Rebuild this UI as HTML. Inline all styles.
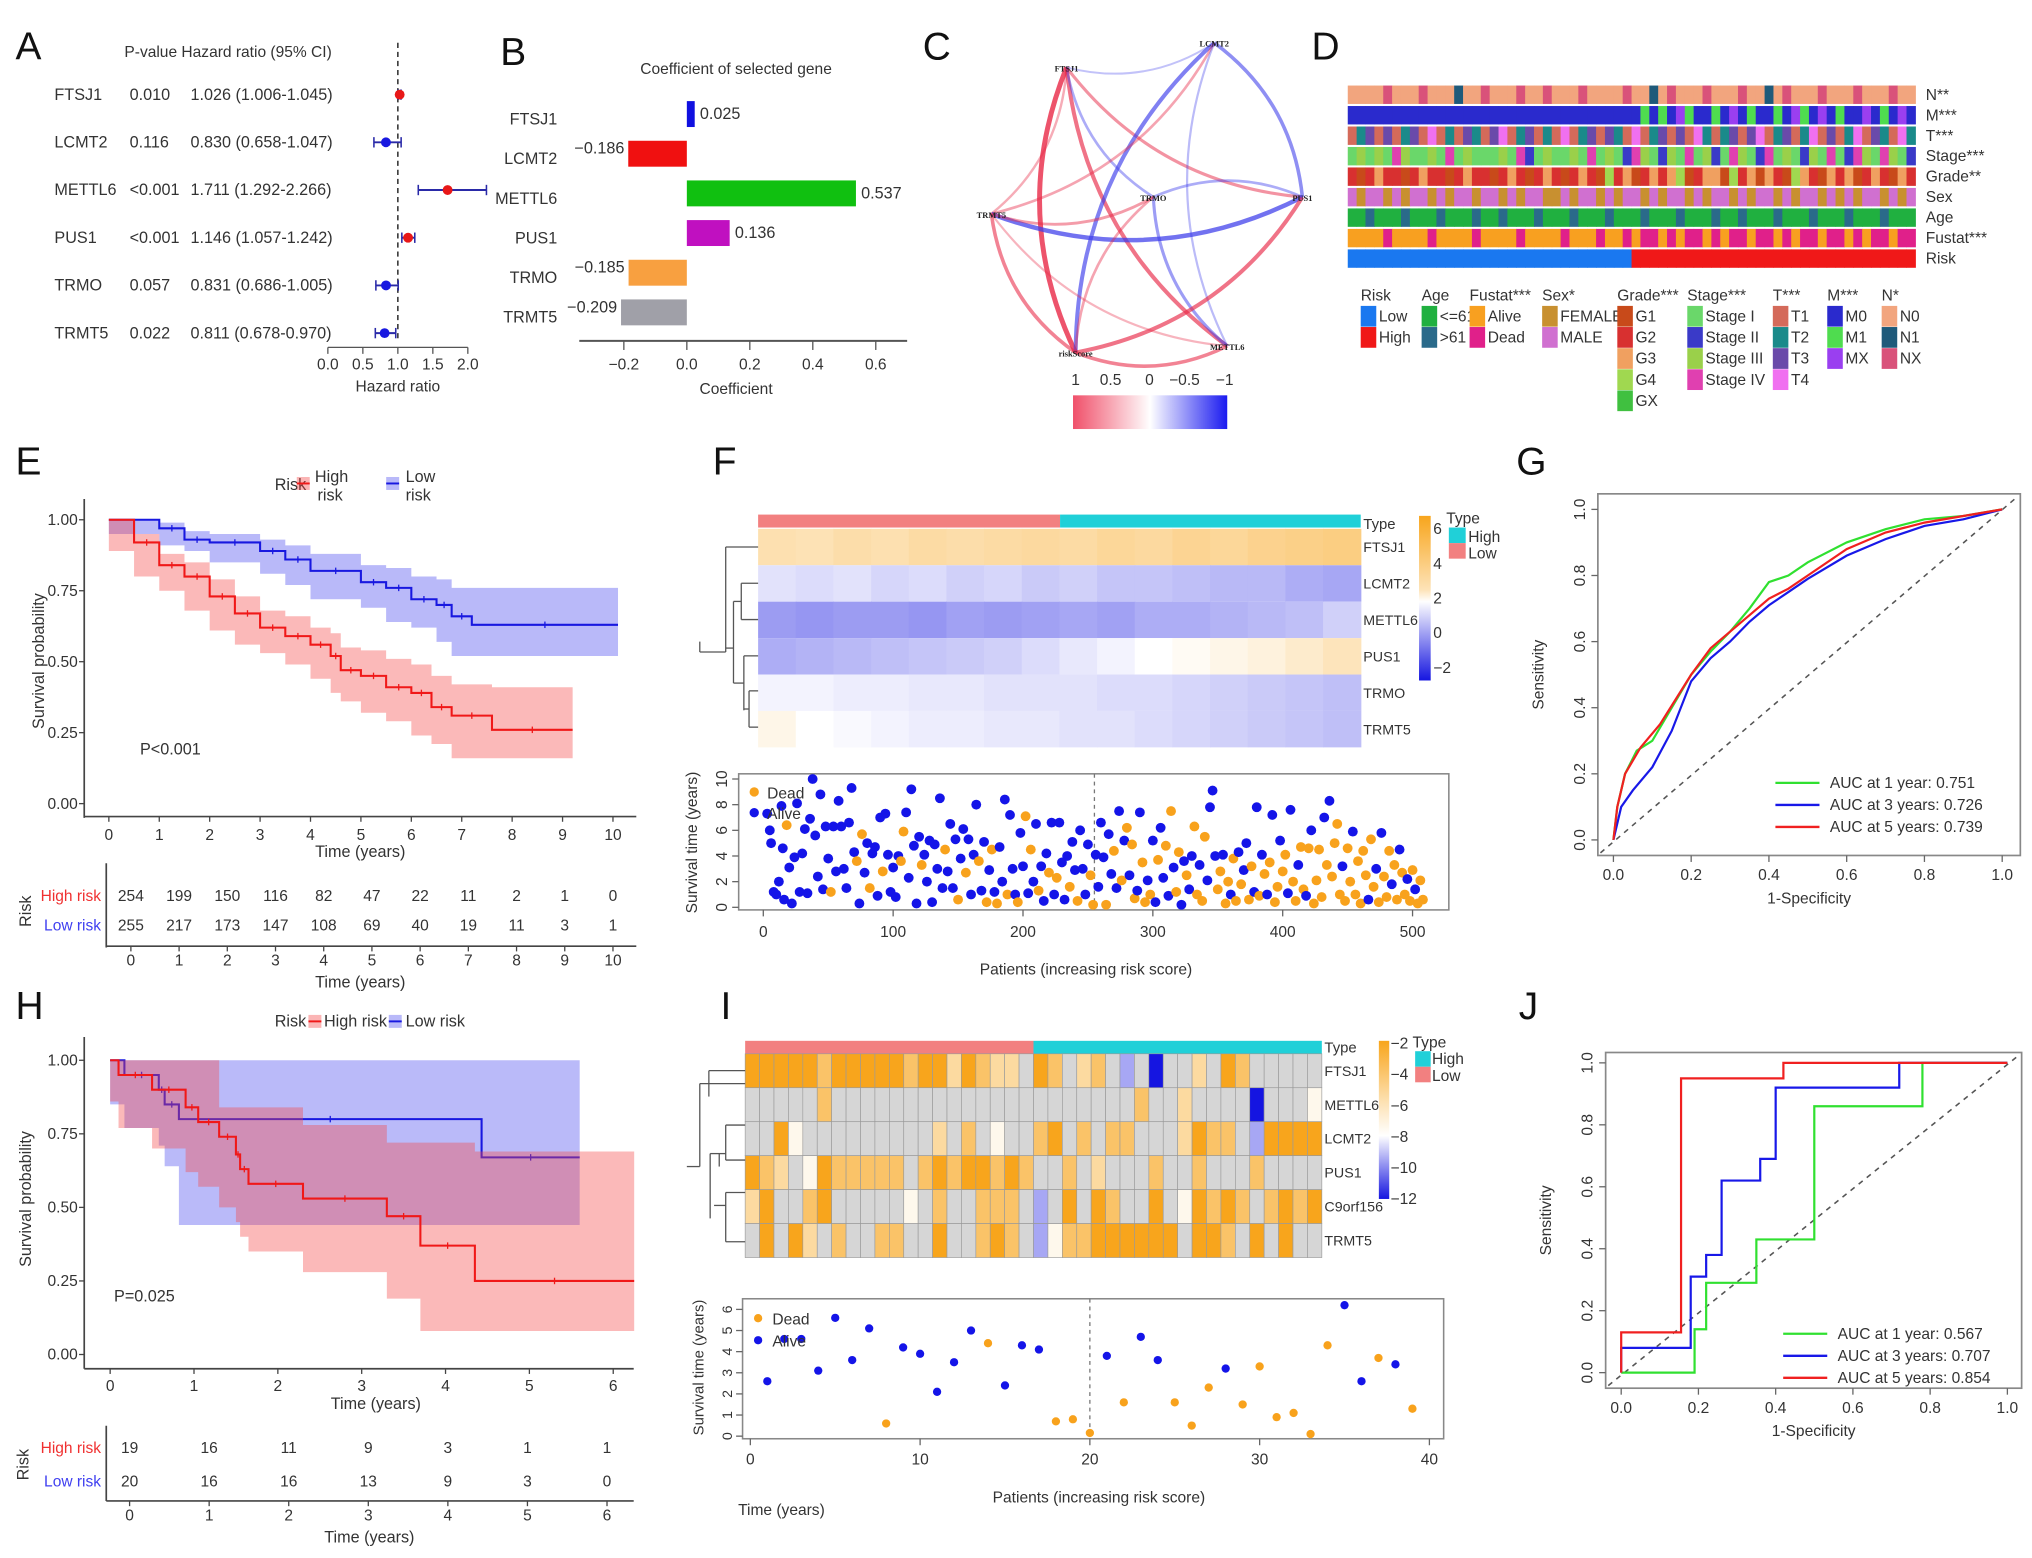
<!DOCTYPE html>
<html><head><meta charset="utf-8"><title>Risk model figure</title>
<style>
html,body{margin:0;padding:0;background:#fff;}
svg{display:block;font-family:"Liberation Sans",Arial,sans-serif;}
</style></head>
<body>
<svg id="fig" xmlns="http://www.w3.org/2000/svg" width="2032" height="1558" viewBox="0 0 1568 1202" preserveAspectRatio="none">
<rect x="0" y="0" width="1568" height="1202" fill="#fff"/>
</svg>
<script>
// ---------------- DATA ----------------
const aGenes=["FTSJ1","LCMT2","METTL6","PUS1","TRMO","TRMT5"];
const aP=["0.010","0.116","<0.001","<0.001","0.057","0.022"];
const aHR=[1.026,0.830,1.711,1.146,0.831,0.811];
const aLo=[1.006,0.658,1.292,1.057,0.686,0.678];
const aHi=[1.045,1.047,2.266,1.242,1.005,0.970];
const aTicks=[0,0.5,1,1.5,2];

const bGenes=["FTSJ1","LCMT2","METTL6","PUS1","TRMO","TRMT5"];
const bCoef=[0.025,-0.186,0.537,0.136,-0.185,-0.209];
const bColors=["#1010e0","#f01010","#10c010","#c010c0","#f8a040","#a0a0a8"];
const bTicks=[-0.2,0,0.2,0.4,0.6];

const cNodes=["FTSJ1","LCMT2","TRMT5","TRMO","PUS1","riskScore","METTL6"];
const cFrom=[0,0,0,0,0,2,4,1,2,1,2,2,2,3,3,5,4,5,2];
const cTo  =[5,6,4,1,3,0,1,5,1,6,4,5,6,5,6,4,3,6,3];
const cR   =[0.8,0.6,0.4,-0.15,-0.3,0.25,-0.5,-0.6,0.3,-0.2,-0.7,0.5,0.2,0.3,-0.4,0.6,-0.3,0.5,0.35];

const dTracks=["N**","M***","T***","Stage***","Grade**","Sex","Age","Fustat***","Risk"];
const dData=[
"0000200020001002000200200020000200102000200020010200020002000200",
"0000000000000000000000000000000001010210010201001021020100201020",
"0120201203010210230120103012021030120203101202301201302013021031",
"0202032002030200020310200203020132012030210320130201203013203201",
"1012110121101211012101210121031201212301220312021032102120121021",
"1011010110101101101011001011010110101101011010110101101010110101",
"0010001000100010010001000100010001000100010010001000100010001000",
"0000100001000010000100001000100101101011010110110101101101011011",
"0000000000000000000000000000000011111111111111111111111111111111"];
const dColors=[
["#f2a57e","#1f5a7a","#d9527a"],
["#2a2acd","#4fdc4f","#9a3ff0"],
["#d46a5a","#1a8a8a","#6a4aaa","#f070f0"],
["#6ad76a","#3a3ac8","#9ad04a","#e040b0"],
["#c84a1a","#d83030","#f0a060","#a0d850","#40c040"],
["#c89030","#d070d0"],
["#20b040","#2a6a8a"],
["#f8a020","#e0208a"],
["#1a78f0","#f01818"]];
const dLegTitles=["Risk","Age","Fustat***","Sex*","Grade***","Stage***","T***","M***","N*"];
const dLegLabels=[["Low","High"],["<=61",">61"],["Alive","Dead"],["FEMALE","MALE"],["G1","G2","G3","G4","GX"],["Stage I","Stage II","Stage III","Stage IV"],["T1","T2","T3","T4"],["M0","M1","MX"],["N0","N1","NX"]];
const dLegColors=[["#1a78f0","#f01818"],["#20b040","#2a6a8a"],["#f8a020","#e0208a"],["#c89030","#d070d0"],["#c84a1a","#d83030","#f0a060","#a0d850","#40c040"],["#6ad76a","#3a3ac8","#9ad04a","#e040b0"],["#d46a5a","#1a8a8a","#6a4aaa","#f070f0"],["#2a2acd","#4fdc4f","#9a3ff0"],["#f2a57e","#1f5a7a","#d9527a"]];

// KM E
const eHiT=[0,0.5,1,1.5,2,2.5,3,3.5,4,4.4,4.6,5,5.5,6,6.4,6.8,7.6,9.2];
const eHiS=[1,0.92,0.84,0.8,0.73,0.67,0.62,0.59,0.56,0.52,0.47,0.45,0.41,0.39,0.34,0.31,0.26,0.26];
const eHiL=[1,0.89,0.8,0.75,0.68,0.61,0.56,0.53,0.49,0.44,0.39,0.36,0.32,0.29,0.24,0.21,0.16,0.16];
const eHiU=[1,0.95,0.88,0.85,0.79,0.73,0.68,0.66,0.62,0.6,0.55,0.54,0.51,0.49,0.45,0.42,0.41,0.41];
const eLoT=[0,1,1.5,2,3,3.5,4,5,5.5,6,6.5,6.8,7.2,10.1];
const eLoS=[1,0.97,0.93,0.92,0.89,0.86,0.82,0.78,0.76,0.72,0.7,0.66,0.63,0.63];
const eLoL=[1,0.95,0.91,0.89,0.85,0.81,0.77,0.72,0.69,0.64,0.62,0.57,0.52,0.52];
const eLoU=[1,0.99,0.96,0.95,0.93,0.91,0.88,0.84,0.83,0.8,0.79,0.76,0.76,0.76];
const eHiN=[254,199,150,116,82,47,22,11,2,1,0];
const eLoN=[255,217,173,147,108,69,40,19,11,3,1];
// KM H
const hHiT=[0,0.1,0.5,0.9,1.05,1.3,1.5,1.55,1.65,2.3,3.3,3.7,4.35,6.25];
const hHiS=[1,0.95,0.9,0.84,0.79,0.74,0.68,0.63,0.58,0.53,0.47,0.37,0.25,0.25];
const hHiL=[1,0.86,0.77,0.7,0.62,0.57,0.5,0.45,0.4,0.35,0.28,0.19,0.08,0.08];
const hHiU=[1,1,1,1,1,0.84,0.84,0.84,0.84,0.78,0.72,0.72,0.69,0.69];
const hLoT=[0,0.17,0.58,0.65,0.82,4.43,5.6];
const hLoS=[1,0.95,0.9,0.85,0.8,0.67,0.67];
const hLoL=[1,0.85,0.77,0.71,0.64,0.44,0.44];
const hLoU=[1,1,1,1,1,1,1];
const hHiN=[19,16,11,9,3,1,1];
const hLoN=[20,16,16,13,9,3,0];

// F heatmap (segment mean values across patients, ordered by risk)
const fGenes=["FTSJ1","LCMT2","METTL6","PUS1","TRMO","TRMT5"];
const fVals=[
[3.4,3.3,3.5,3.4,3.6,3.5,3.6,3.7,3.6,3.8,3.7,3.9,3.8,4.0,4.1,4.2],
[1.5,1.4,1.5,1.3,1.4,1.2,1.3,1.1,1.2,1.0,1.0,0.9,0.8,0.8,0.6,0.5],
[0.3,0.2,0.3,0.3,0.2,0.4,0.3,0.4,0.5,0.4,0.6,0.6,0.7,0.8,0.9,1.2],
[0.6,0.7,0.8,0.9,1.0,1.1,1.2,1.4,1.6,1.8,2.0,2.2,2.4,2.6,2.9,3.2],
[1.8,1.8,1.7,1.7,1.6,1.6,1.5,1.5,1.5,1.4,1.4,1.3,1.2,1.1,1.0,0.9],
[2.4,2.0,1.9,1.8,1.7,1.7,1.6,1.6,1.5,1.5,1.4,1.3,1.2,1.1,1.0,0.9]];
const fTicks=[6,4,2,0,-2];
// F scatter: patient index, years, dead flag
const fPts="3,7.3,0;5,6.0,0;6,5.0,0;8,1.2,0;10,1.0,0;12,2.0,0;14,7.9,0;15,4.6,0;16,0.6,0;18,6.4,1;20,3.1,0;22,0.3,0;24,3.9,0;26,8.1,0;28,1.2,0;30,4.2,0;32,6.1,0;34,1.1,0;36,6.9,0;38,10.0,0;40,5.6,0;42,2.4,0;44,8.8,0;46,1.4,0;48,6.3,0;50,3.8,0;52,1.2,1;54,6.3,0;56,2.8,0;58,8.3,0;60,6.3,0;62,3.0,0;64,1.5,0;66,6.6,0;68,9.3,0;70,4.3,0;72,3.6,1;74,0.3,0;76,5.7,1;78,2.7,0;80,5.0,0;82,1.5,1;84,4.2,0;86,4.7,0;88,0.9,0;90,7.0,0;92,2.8,1;94,7.3,0;96,4.1,0;98,1.2,0;100,3.1,0;102,0.8,0;104,4.0,0;106,3.6,1;108,5.9,1;110,7.4,0;112,2.3,0;114,9.2,0;116,4.8,0;118,0.3,0;120,5.5,0;122,3.3,1;124,4.1,0;126,2.0,0;128,5.2,0;130,0.4,0;132,4.9,0;134,3.0,0;136,8.5,0;138,1.5,0;140,4.5,1;142,2.8,0;144,6.5,0;146,1.5,0;148,5.3,0;150,0.6,1;152,3.8,0;154,6.1,0;156,2.7,1;158,5.3,0;160,1.0,0;162,4.1,0;164,8.0,0;166,3.6,1;168,1.3,0;170,5.1,0;172,0.4,1;174,2.9,0;176,4.5,1;178,1.2,0;180,0.3,1;182,4.7,0;184,2.0,0;186,8.4,0;188,1.0,1;190,7.2,0;192,3.0,0;194,1.0,0;196,0.4,1;198,5.8,0;200,3.2,0;202,7.1,1;204,1.1,0;206,4.5,1;208,2.0,0;210,6.5,0;212,1.3,1;214,3.2,0;216,0.5,0;218,4.2,0;220,2.7,1;222,6.6,0;224,1.0,0;226,2.3,1;228,6.6,0;230,3.5,0;232,0.6,0;234,4.0,0;236,1.6,1;238,5.1,0;240,2.9,0;242,0.5,1;244,6.0,0;246,3.0,0;248,1.0,0;250,4.9,0;252,2.5,1;254,0.2,1;256,4.1,0;258,1.6,0;260,6.6,0;262,3.9,0;264,0.2,1;266,5.7,0;268,2.6,0;270,4.4,1;272,1.5,0;274,7.5,0;276,2.1,1;278,5.2,0;280,6.2,1;282,2.5,0;284,4.9,1;286,0.7,1;288,1.3,0;290,7.4,0;292,3.5,1;294,0.4,1;296,2.1,0;298,1.0,1;300,5.2,0;302,0.4,0;304,3.7,1;306,6.2,0;308,2.3,0;310,4.8,1;312,0.9,0;314,7.5,1;316,3.1,0;318,1.2,1;320,4.3,1;322,0.2,0;324,3.6,0;326,2.5,1;328,1.4,0;330,4.0,0;332,6.3,1;334,1.0,1;336,3.3,0;338,0.5,1;340,5.5,1;342,2.1,0;344,7.8,0;346,9.1,0;348,4.0,0;350,1.4,1;352,2.8,1;354,4.1,0;356,0.3,1;358,2.0,1;360,1.0,0;362,3.8,1;364,0.5,1;366,4.3,0;368,1.8,1;370,2.9,0;372,5.0,0;374,0.6,1;376,3.2,1;378,1.2,0;380,7.8,0;382,0.9,1;384,4.1,0;386,2.6,1;388,1.0,0;390,3.5,1;392,7.2,0;394,0.4,1;396,1.6,1;398,5.2,0;400,2.8,1;402,4.1,1;404,1.1,0;406,7.6,0;408,2.0,1;410,0.5,1;412,3.3,0;414,4.7,1;416,1.4,1;418,0.9,0;420,4.6,1;422,6.0,0;424,0.3,1;426,2.1,1;428,4.5,1;430,0.8,1;432,7.0,0;434,3.3,1;436,8.3,0;438,2.4,1;440,5.0,1;442,6.5,1;444,1.0,1;446,3.2,0;448,0.5,1;450,4.6,1;452,2.0,1;454,5.9,0;456,1.0,1;458,3.6,1;460,0.3,1;462,4.4,1;464,2.5,1;466,0.6,0;468,5.3,1;470,1.6,1;472,3.0,0;474,0.4,1;476,5.8,0;478,2.4,1;480,0.8,1;482,4.4,1;484,1.8,0;486,3.3,1;488,0.6,1;490,4.5,0;492,2.7,1;494,1.0,1;496,2.2,0;498,0.5,1;500,2.9,1;502,1.4,0;504,0.3,1;506,2.1,1;508,0.6,1";

// G ROC
const gFpr1=[0,0.01,0.03,0.06,0.1,0.15,0.2,0.25,0.3,0.35,0.4,0.45,0.5,0.6,0.7,0.8,0.9,1];
const gTpr1=[0,0.1,0.2,0.27,0.3,0.4,0.5,0.57,0.63,0.7,0.78,0.8,0.84,0.9,0.94,0.97,0.98,1];
const gFpr3=[0,0.02,0.05,0.1,0.15,0.2,0.25,0.3,0.35,0.4,0.45,0.5,0.6,0.7,0.8,0.9,1];
const gTpr3=[0,0.1,0.15,0.22,0.33,0.48,0.55,0.6,0.66,0.71,0.75,0.79,0.86,0.91,0.95,0.97,1];
const gFpr5=[0,0.01,0.03,0.07,0.12,0.2,0.25,0.3,0.35,0.4,0.45,0.5,0.6,0.7,0.8,0.9,1];
const gTpr5=[0,0.1,0.2,0.28,0.35,0.5,0.58,0.63,0.68,0.73,0.76,0.8,0.88,0.93,0.96,0.98,1];
const gAUC=["0.751","0.726","0.739"];
const rocTicks=[0,0.2,0.4,0.6,0.8,1];

// I heatmap (40 patients), codes: O=-2 o=-4 l=-5.5 w=-7.5 b=-9.5 B=-12 .=grey(NA)
const iGenes=["FTSJ1","METTL6","LCMT2","PUS1","C9orf156","TRMT5"];
const iRows=[
"OOOOOoOOOOOoOOlOoll.Oo.lo.b.B..l.Oo.....",
".....o.....................o..l....B...w",
"..Ow.........l.o.w..oO.o.oo...lOoo.bOOOO",
"Ool.wOooooo.oOoOOoOo..o.l...o..o...o....",
"lO..oO.....w.o..ooo.b.O.Oo..O.wOoOo.oOoO",
".O.Ol.o..oo..O..oOo.bwooOOOOOO.OOo.O.O.."];
const iCodeVals={"O":-2,"o":-4,"l":-5.5,"w":-7.5,"b":-9.5,"B":-12};
const iTicks=[-2,-4,-6,-8,-10,-12];
const iYears=[2.6,4.6,4.6,3.1,5.6,3.6,5.1,0.6,4.2,3.9,2.1,3.5,5.0,4.4,2.4,4.3,4.1,0.7,0.8,0.15,3.8,1.6,4.7,3.6,1.6,0.5,2.3,3.2,1.5,3.3,0.9,1.1,0.1,4.3,6.2,2.6,3.7,3.4,1.3];
const iDead=[0,0,0,0,0,0,0,1,0,0,0,0,0,1,0,0,0,1,1,1,0,1,0,0,1,1,1,0,1,1,1,1,1,1,0,0,1,0,1];

// J ROC
const jFpr1=[0,0.19,0.19,0.22,0.22,0.35,0.35,0.5,0.5,0.78,0.78,1];
const jTpr1=[0,0,0.14,0.14,0.29,0.29,0.43,0.43,0.86,0.86,1,1];
const jFpr3=[0,0,0.18,0.18,0.22,0.22,0.26,0.26,0.36,0.36,0.4,0.4,0.72,0.72,1];
const jTpr3=[0,0.08,0.08,0.31,0.31,0.38,0.38,0.62,0.62,0.69,0.69,0.92,0.92,1,1];
const jFpr5=[0,0,0.155,0.155,0.42,0.42,1];
const jTpr5=[0,0.13,0.13,0.95,0.95,1,1];
const jAUC=["0.567","0.707","0.854"];

// ---------------- HELPERS ----------------
const NS="http://www.w3.org/2000/svg";
const svg=document.getElementById("fig");
function mk(tag,a,name,p){
  const e=document.createElementNS(NS,tag);
  for(const k in a) e.setAttribute(k,a[k]);
  
  
  (p||svg).appendChild(e);
  return e;
}
function T(x,y,s,name,o){
  o=o||{};
  const a={x:x,y:y,"font-size":o.fs||12,"text-anchor":o.a||"start",fill:o.c||"#333"};
  if(o.rot) a.transform="rotate("+o.rot+" "+x+" "+y+")";
  if(o.w) a["font-weight"]=o.w;
  const t=mk("text",a,name,o.p);
  t.textContent=s;
  return t;
}
function L(x1,y1,x2,y2,name,st,w,dash){
  const a={x1:x1,y1:y1,x2:x2,y2:y2,stroke:st||"#333","stroke-width":w||1};
  if(dash) a["stroke-dasharray"]=dash;
  return mk("line",a,name);
}
function fmt(v){return (v<0?"\u2212":"")+Math.abs(v).toFixed(1);}

// panel letters
[["A",12,46],["B",386,50],["C",712,46],["D",1012,46],["E",12,366],["F",550,366],["G",1170,366],["H",12,786],["I",556,786],["J",1172,786]].forEach(l=>{
  T(l[1],l[2],l[0],"panel-label-"+l[0].toLowerCase(),{fs:30,c:"#111"});
});

// ---------------- PANEL A ----------------
const xA=v=>253+v*54;
const yA=i=>73+i*36.8;
T(96,44,"P-value  Hazard ratio (95% CI)","forest-header",{fs:12});
L(xA(1),33,xA(1),262,"forest-reference-line","#333",1.2,"4,3");
aGenes.forEach((g,i)=>{
  const y=yA(i);
  T(42,y+4,g,"forest-gene-label",{fs:12.5});
  T(100,y+4,aP[i],"forest-p-value",{fs:12.5});
  T(147,y+4,aHR[i].toFixed(3)+" ("+aLo[i].toFixed(3)+"-"+aHi[i].toFixed(3)+")","forest-hr-text",{fs:12.5});
  L(xA(aLo[i]),y,xA(aHi[i]),y,"forest-ci-line","#2a2aa8",1.5);
  L(xA(aLo[i]),y-4,xA(aLo[i]),y+4,"forest-ci-cap","#2a2aa8",1.2);
  L(xA(aHi[i]),y-4,xA(aHi[i]),y+4,"forest-ci-cap","#2a2aa8",1.2);
  mk("circle",{cx:xA(aHR[i]),cy:y,r:3.8,fill:aHR[i]>1?"#e81818":"#1818e0"},"forest-point");
});
L(xA(0),268,xA(2),268,"forest-x-axis","#555",1);
aTicks.forEach(t=>{
  L(xA(t),268,xA(t),273,"forest-x-tick","#555",1);
  T(xA(t),285,t.toFixed(1),"forest-x-tick-label",{fs:12,a:"middle"});
});
T(307,302,"Hazard ratio","forest-x-axis-title",{fs:12,a:"middle"});

// ---------------- PANEL B ----------------
const xB=v=>530+v*243;
const yB=i=>88+i*30.6;
T(568,57,"Coefficient of selected gene","coef-title",{fs:12,a:"middle"});
bGenes.forEach((g,i)=>{
  const y=yB(i),v=bCoef[i];
  const x0=Math.min(xB(0),xB(v)),w=Math.abs(xB(v)-xB(0));
  mk("rect",{x:x0,y:y-10,width:Math.max(w,3),height:20,fill:bColors[i]},"coef-bar-"+g.toLowerCase());
  T(430,y+8,g,"coef-gene-label",{fs:12.5,a:"end"});
  if(v>=0) T(xB(v)+4,y+4,v.toFixed(3),"coef-value-label",{fs:12.5});
  else T(xB(v)-3,y,"\u2212"+Math.abs(v).toFixed(3),"coef-value-label",{fs:12.5,a:"end"});
});
L(447,263,700,263,"coef-x-axis","#555",1.5);
bTicks.forEach(t=>{
  L(xB(t),263,xB(t),270,"coef-x-tick","#555",1);
  T(xB(t),285,fmt(t),"coef-x-tick-label",{fs:12,a:"middle"});
});
T(568,304,"Coefficient","coef-x-axis-title",{fs:12,a:"middle"});

// ---------------- PANEL C ----------------
const cPos=[[823,52],[937,33],[765,165],[890,152],[1005,152],[830,272],[947,267]];
cFrom.forEach((f,i)=>{
  const a=cPos[f],b=cPos[cTo[i]],r=cR[i];
  const dx=b[0]-a[0],dy=b[1]-a[1];
  const mx=(a[0]+b[0])/2,my=(a[1]+b[1])/2;
  const qx=mx-dy*0.22,qy=my+dx*0.22;
  const col=r>0?"rgba(232,40,70,"+(0.2+0.75*Math.abs(r))+")":"rgba(60,60,235,"+(0.2+0.75*Math.abs(r))+")";
  mk("path",{d:"M"+a[0]+" "+a[1]+" Q"+qx+" "+qy+" "+b[0]+" "+b[1],fill:"none",stroke:col,"stroke-width":1+Math.abs(r)*3.5},"network-edge");
});
cNodes.forEach((n,i)=>{
  T(cPos[i][0],cPos[i][1]+3,n,"network-node-label",{fs:6.5,a:"middle",c:"#222",w:"bold"}).setAttribute("font-family","Liberation Serif");
});
const grad=mk("linearGradient",{id:"cg",x1:"0",x2:"1",y1:"0",y2:"0"},"corr-gradient");
[["0","#f0506a"],["0.5","#ffffff"],["1","#1a1af0"]].forEach(s=>{mk("stop",{offset:s[0],"stop-color":s[1]},"gradient-stop",grad);});
mk("rect",{x:828,y:305,width:119,height:26,fill:"url(#cg)"},"corr-colorbar");
[["1",830],["0.5",857],["0",887],["\u22120.5",914],["\u22121",945]].forEach(t=>{T(t[1],297,t[0],"corr-colorbar-label",{fs:12,a:"middle"});});

// ---------------- PANEL D ----------------
const dx0=1040,dx1=1478,dy0=66,dh=14.2,dg=1.6;
dTracks.forEach((tr,ti)=>{
  const s=dData[ti],n=s.length,w=(dx1-dx0)/n,y=dy0+ti*(dh+dg);
  for(let j=0;j<n;j++){
    const c=+s[j];
    mk("rect",{x:dx0+j*w,y:y,width:w+0.4,height:dh,fill:dColors[ti][c]},"clinical-cell-"+tr.replace(/\*/g,"").toLowerCase());
  }
  T(1486,y+11,tr,"clinical-track-label",{fs:12});
});
const dLegX=[1050,1097,1134,1190,1248,1302,1368,1410,1452];
dLegTitles.forEach((t,i)=>{
  T(dLegX[i],232,t,"clinical-legend-title",{fs:12});
  dLegLabels[i].forEach((lb,j)=>{
    mk("rect",{x:dLegX[i],y:236+j*16.3,width:12,height:16,fill:dLegColors[i][j]},"clinical-legend-swatch");
    T(dLegX[i]+14,248+j*16.3,lb,"clinical-legend-label",{fs:12});
  });
});

// ---------------- KM helper ----------------
function km(xf,yf,t,s,lo,up,col,band,name){
  let d="M"+xf(t[0])+" "+yf(up[0]);
  for(let i=1;i<t.length;i++) d+=" H"+xf(t[i])+" V"+yf(up[i]);
  for(let i=t.length-1;i>0;i--) d+=" V"+yf(lo[i])+" H"+xf(t[i-1]);
  d+=" V"+yf(lo[0])+" Z";
  mk("path",{d:d,fill:band,stroke:"none"},name+"-ci-band");
  let p="M"+xf(t[0])+" "+yf(s[0]);
  for(let i=1;i<t.length;i++) p+=" H"+xf(t[i])+" V"+yf(s[i]);
  mk("path",{d:p,fill:"none",stroke:col,"stroke-width":1.6},name+"-curve");
  for(let i=1;i<t.length-1;i++){
    const xm=(xf(t[i])+xf(t[i+1]))/2;
    L(xm,yf(s[i])-2.5,xm,yf(s[i])+2.5,name+"-censor-mark",col,1);
  }
}

// ---------------- PANEL E ----------------
const xE=v=>84+v*38.9, yE=v=>620-v*219;
km(xE,yE,eLoT,eLoS,eLoL,eLoU,"#1818e0","rgba(80,80,240,0.4)","km-e-low-risk");
km(xE,yE,eHiT,eHiS,eHiL,eHiU,"#f01818","rgba(245,70,70,0.38)","km-e-high-risk");
L(65,385,65,631,"km-e-y-axis","#444",1.3);
L(65,630,491,630,"km-e-x-axis","#444",1.3);
[0,0.25,0.5,0.75,1].forEach(v=>{
  L(61,yE(v),65,yE(v),"km-e-y-tick","#444",1);
  T(60,yE(v)+4,v.toFixed(2),"km-e-y-tick-label",{fs:12,a:"end"});
});
for(let t=0;t<=10;t++){L(xE(t),630,xE(t),634,"km-e-x-tick","#444",1);T(xE(t),648,String(t),"km-e-x-tick-label",{fs:12,a:"middle"});}
T(278,661,"Time (years)","km-e-x-axis-title",{fs:12.5,a:"middle"});
T(34,510,"Survival probability","km-e-y-axis-title",{fs:12.5,a:"middle",rot:-90});
T(108,582,"P<0.001","km-e-p-value",{fs:12.5});
T(212,378,"Risk","km-e-legend-title",{fs:12.5});
mk("rect",{x:229,y:368,width:10,height:10,fill:"rgba(245,70,70,0.4)"},"km-e-legend-high-swatch");
L(229,373,239,373,"km-e-legend-high-line","#f01818",1.5);
T(243,372,"High","km-e-legend-high-label",{fs:12.5});T(245,386,"risk","km-e-legend-high-label",{fs:12.5});
mk("rect",{x:298,y:368,width:10,height:10,fill:"rgba(80,80,240,0.4)"},"km-e-legend-low-swatch");
L(298,373,308,373,"km-e-legend-low-line","#1818e0",1.5);
T(313,372,"Low","km-e-legend-low-label",{fs:12.5});T(313,386,"risk","km-e-legend-low-label",{fs:12.5});
const xEt=v=>101+v*37.2;
L(82,666,82,731,"risk-table-e-y-axis","#444",1.3);
L(82,730,491,730,"risk-table-e-x-axis","#444",1.3);
T(78,695,"High risk","risk-table-e-high-label",{fs:12,a:"end",c:"#f03030"});
T(78,718,"Low risk","risk-table-e-low-label",{fs:12,a:"end",c:"#4040f0"});
T(24,703,"Risk","risk-table-e-title",{fs:12.5,a:"middle",rot:-90});
eHiN.forEach((n,i)=>{T(xEt(i),695,String(n),"risk-table-e-high-count",{fs:12,a:"middle"});});
eLoN.forEach((n,i)=>{T(xEt(i),718,String(n),"risk-table-e-low-count",{fs:12,a:"middle"});});
for(let t=0;t<=10;t++){L(xEt(t),730,xEt(t),734,"risk-table-e-x-tick","#444",1);T(xEt(t),745,String(t),"risk-table-e-x-tick-label",{fs:12,a:"middle"});}
T(278,762,"Time (years)","risk-table-e-x-axis-title",{fs:12.5,a:"middle"});

// ---------------- PANEL F heatmap ----------------
const fx0=585,fx1=1050,fy0=408,frh=28.1;
mk("rect",{x:fx0,y:397,width:818-fx0,height:10,fill:"#f28080"},"type-bar-low");
mk("rect",{x:818,y:397,width:fx1-818,height:10,fill:"#20d0d8"},"type-bar-high");
function fCol(v){
  if(v>=2){const t=Math.min(1,(v-2)/4);return "rgb("+Math.round(255-7*t)+","+Math.round(255-90*t)+","+Math.round(255-227*t)+")";}
  const t=Math.min(1,(2-v)/4);return "rgb("+Math.round(255-234*t)+","+Math.round(255-234*t)+","+Math.round(255-30*t)+")";
}
fGenes.forEach((g,gi)=>{
  const vals=fVals[gi],w=(fx1-fx0)/vals.length;
  vals.forEach((v,j)=>{mk("rect",{x:fx0+j*w,y:fy0+gi*frh,width:w+0.5,height:frh,fill:fCol(v)},"expr-heatmap-cell-"+g.toLowerCase());});
  T(1052,fy0+gi*frh+18,g,"expr-heatmap-gene-label",{fs:11});
});
T(1052,408,"Type","expr-heatmap-type-label",{fs:11.5});
[[560,422,585,422],[560,422,560,503],[540,503,560,503],[540,503,540,495],[572,450,585,450],[572,450,572,478],[572,478,585,478],[566,464,572,464],[566,464,566,527],[566,527,574,527],[574,506,585,506],[574,506,574,548],[578,533,585,533],[578,533,578,561],[578,561,585,561],[574,547,578,547],[560,500,566,500]].forEach(s=>{L(s[0],s[1],s[2],s[3],"expr-dendrogram-branch","#555",1);});
const fcg=mk("linearGradient",{id:"fcg",x1:"0",x2:"0",y1:"0",y2:"1"},"expr-colorbar-gradient");
[["0","#f8a51c"],["0.45","#fde3b8"],["0.52","#ffffff"],["1","#1515e0"]].forEach(s=>{mk("stop",{offset:s[0],"stop-color":s[1]},"gradient-stop",fcg);});
mk("rect",{x:1095,y:398,width:9,height:127,fill:"url(#fcg)"},"expr-colorbar");
fTicks.forEach((t,i)=>{T(1106,412+i*26.8,t<0?"\u2212"+(-t):String(t),"expr-colorbar-label",{fs:12});});
T(1116,404,"Type","expr-legend-title",{fs:12});
mk("rect",{x:1118,y:407,width:13,height:12,fill:"#20d0d8"},"expr-legend-high-swatch");
T(1133,418,"High","expr-legend-high-label",{fs:12});
mk("rect",{x:1118,y:419,width:13,height:12,fill:"#f28080"},"expr-legend-low-swatch");
T(1133,431,"Low","expr-legend-low-label",{fs:12});

// F scatter
const xF=v=>589+v*1.002, yF=v=>700-v*9.9;
mk("rect",{x:570,y:597,width:548,height:105,fill:"none",stroke:"#888","stroke-width":1.2},"survival-scatter-frame");
L(xF(255),597,xF(255),702,"survival-scatter-cutoff","#777",1,"3,3");
fPts.split(";").forEach(p=>{
  const q=p.split(",");
  mk("circle",{cx:xF(+q[0]),cy:yF(+q[1]),r:3.8,fill:q[2]=="1"?"#f8a21c":"#1414e8"},q[2]=="1"?"dead-patient-point":"alive-patient-point");
});
[0,100,200,300,400,500].forEach(t=>{L(xF(t),702,xF(t),707,"survival-scatter-x-tick","#666",1);T(xF(t),723,String(t),"survival-scatter-x-tick-label",{fs:12,a:"middle"});});
[0,2,4,6,8,10].forEach(t=>{L(565,yF(t),570,yF(t),"survival-scatter-y-tick","#666",1);T(561,yF(t),String(t),"survival-scatter-y-tick-label",{fs:12,a:"middle",rot:-90});});
T(538,650,"Survival time (years)","survival-scatter-y-title",{fs:12,a:"middle",rot:-90});
T(838,752,"Patients (increasing risk score)","survival-scatter-x-title",{fs:12,a:"middle"});
mk("circle",{cx:582,cy:611,r:3.6,fill:"#f8a21c"},"legend-dead-marker");T(592,616,"Dead","legend-dead-label",{fs:12});
mk("circle",{cx:582,cy:627,r:3.6,fill:"#1414e8"},"legend-alive-marker");T(592,632,"Alive","legend-alive-label",{fs:12});

// ---------------- ROC helper ----------------
function roc(pfx,fr,xf,yf,fprs,tprs,aucs,legX,legY,yrs){
  mk("rect",{x:fr[0],y:fr[1],width:fr[2]-fr[0],height:fr[3]-fr[1],fill:"none",stroke:"#888","stroke-width":1.3},pfx+"-frame");
  L(fr[0]+2,fr[3]-2,fr[2]-2,fr[1]+2,pfx+"-diagonal","#555",1.2,"4,4");
  const cols=["#30e030","#1818e8","#f02020"];
  fprs.forEach((f,k)=>{
    const pts=f.map((v,i)=>xf(v)+","+yf(tprs[k][i])).join(" ");
    mk("polyline",{points:pts,fill:"none",stroke:cols[k],"stroke-width":1.7},pfx+"-curve-"+yrs[k].replace(" ","-"));
    L(legX,legY+k*17,legX+34,legY+k*17,pfx+"-legend-line",cols[k],1.8);
    T(legX+42,legY+k*17+4,"AUC at "+yrs[k]+": "+aucs[k],pfx+"-legend-label",{fs:12});
  });
  rocTicks.forEach(t=>{
    L(xf(t),fr[3],xf(t),fr[3]+5,pfx+"-x-tick","#666",1);
    T(xf(t),fr[3]+19,t.toFixed(1),pfx+"-x-tick-label",{fs:12,a:"middle"});
    L(fr[0]-5,yf(t),fr[0],yf(t),pfx+"-y-tick","#666",1);
    T(fr[0]-10,yf(t),t.toFixed(1),pfx+"-y-tick-label",{fs:12,a:"middle",rot:-90});
  });
  T((fr[0]+fr[2])/2,fr[3]+37,"1-Specificity",pfx+"-x-title",{fs:12,a:"middle"});
  T(fr[0]-42,(fr[1]+fr[3])/2,"Sensitivity",pfx+"-y-title",{fs:12,a:"middle",rot:-90});
}
roc("roc-g",[1233,381,1559,660],v=>1245+v*300,v=>648-v*255,[gFpr1,gFpr3,gFpr5],[gTpr1,gTpr3,gTpr5],gAUC,1370,604,["1 year","3 years","5 years"]);
roc("roc-j",[1239,812,1560,1071],v=>1251+v*298,v=>1059-v*239,[jFpr1,jFpr3,jFpr5],[jTpr1,jTpr3,jTpr5],jAUC,1376,1029,["1 year","3 years","5 years"]);

// ---------------- PANEL H ----------------
const xH=v=>85+v*64.7, yH=v=>1045-v*227;
km(xH,yH,hLoT,hLoS,hLoL,hLoU,"#1818e0","rgba(90,90,240,0.42)","km-h-low-risk");
km(xH,yH,hHiT,hHiS,hHiL,hHiU,"#f01818","rgba(245,70,70,0.38)","km-h-high-risk");
L(65,800,65,1056,"km-h-y-axis","#444",1.3);
L(65,1056,489,1056,"km-h-x-axis","#444",1.3);
[0,0.25,0.5,0.75,1].forEach(v=>{
  L(61,yH(v),65,yH(v),"km-h-y-tick","#444",1);
  T(60,yH(v)+4,v.toFixed(2),"km-h-y-tick-label",{fs:12,a:"end"});
});
for(let t=0;t<=6;t++){L(xH(t),1056,xH(t),1060,"km-h-x-tick","#444",1);T(xH(t),1073,String(t),"km-h-x-tick-label",{fs:12,a:"middle"});}
T(290,1087,"Time (years)","km-h-x-axis-title",{fs:12.5,a:"middle"});
T(24,925,"Survival probability","km-h-y-axis-title",{fs:12.5,a:"middle",rot:-90});
T(88,1004,"P=0.025","km-h-p-value",{fs:12.5});
T(212,792,"Risk","km-h-legend-title",{fs:12.5});
mk("rect",{x:238,y:783,width:10,height:10,fill:"rgba(245,70,70,0.4)"},"km-h-legend-high-swatch");
L(238,788,248,788,"km-h-legend-high-line","#f01818",1.5);
T(250,792,"High risk","km-h-legend-high-label",{fs:12.5});
mk("rect",{x:300,y:783,width:10,height:10,fill:"rgba(80,80,240,0.4)"},"km-h-legend-low-swatch");
L(300,788,310,788,"km-h-legend-low-line","#1818e0",1.5);
T(313,792,"Low risk","km-h-legend-low-label",{fs:12.5});
const xHt=v=>100+v*61.4;
L(82,1100,82,1158,"risk-table-h-y-axis","#444",1.3);
L(82,1158,489,1158,"risk-table-h-x-axis","#444",1.3);
T(78,1121,"High risk","risk-table-h-high-label",{fs:12,a:"end",c:"#f03030"});
T(78,1147,"Low risk","risk-table-h-low-label",{fs:12,a:"end",c:"#4040f0"});
T(22,1130,"Risk","risk-table-h-title",{fs:12.5,a:"middle",rot:-90});
hHiN.forEach((n,i)=>{T(xHt(i),1121,String(n),"risk-table-h-high-count",{fs:12,a:"middle"});});
hLoN.forEach((n,i)=>{T(xHt(i),1147,String(n),"risk-table-h-low-count",{fs:12,a:"middle"});});
for(let t=0;t<=6;t++){L(xHt(t),1158,xHt(t),1162,"risk-table-h-x-tick","#444",1);T(xHt(t),1173,String(t),"risk-table-h-x-tick-label",{fs:12,a:"middle"});}
T(285,1190,"Time (years)","risk-table-h-x-axis-title",{fs:12.5,a:"middle"});

// ---------------- PANEL I heatmap ----------------
const ix0=575,ix1=1020,iy0=813,irh=26.2,icw=(ix1-ix0)/40;
mk("rect",{x:ix0,y:803,width:20*icw,height:10,fill:"#f28080"},"validation-type-bar-low");
mk("rect",{x:ix0+20*icw,y:803,width:20*icw,height:10,fill:"#20d0d8"},"validation-type-bar-high");
function iCol(v){
  if(v===undefined) return "#d6d6d6";
  if(v>=-8){const t=Math.min(1,(v+8)/6);return "rgb("+Math.round(255-7*t)+","+Math.round(255-90*t)+","+Math.round(255-227*t)+")";}
  const t=Math.min(1,(-8-v)/4);return "rgb("+Math.round(255-234*t)+","+Math.round(255-234*t)+","+Math.round(255-30*t)+")";
}
iGenes.forEach((g,gi)=>{
  const s=iRows[gi];
  for(let j=0;j<40;j++){
    mk("rect",{x:ix0+j*icw,y:iy0+gi*irh,width:icw,height:irh,fill:iCol(iCodeVals[s[j]]),stroke:"#9a9a9a","stroke-width":0.5},"validation-heatmap-cell-"+g.toLowerCase());
  }
  T(1022,iy0+gi*irh+17,g,"validation-heatmap-gene-label",{fs:11});
});
T(1022,812,"Type","validation-heatmap-type-label",{fs:11.5});
[[540,836,575,836],[540,836,540,900],[540,900,530,900],[547,826,575,826],[547,826,547,846],[555,900,555,890],[548,890,560,890],[548,890,548,940],[560,868,575,868],[560,868,560,895],[560,895,575,895],[551,930,560,930],[560,920,575,920],[560,920,560,958],[560,958,575,958]].forEach(s=>{L(s[0],s[1],s[2],s[3],"validation-dendrogram-branch","#555",1);});
const icg=mk("linearGradient",{id:"icg",x1:"0",x2:"0",y1:"0",y2:"1"},"validation-colorbar-gradient");
[["0","#f8a51c"],["0.4","#fde3b8"],["0.6","#ffffff"],["1","#1515e0"]].forEach(s=>{mk("stop",{offset:s[0],"stop-color":s[1]},"gradient-stop",icg);});
mk("rect",{x:1064,y:803,width:8,height:122,fill:"url(#icg)"},"validation-colorbar");
iTicks.forEach((t,i)=>{T(1073,809+i*24,"\u2212"+(-t),"validation-colorbar-label",{fs:12});});
T(1090,808,"Type","validation-legend-title",{fs:12});
mk("rect",{x:1092,y:811,width:12,height:12,fill:"#20d0d8"},"validation-legend-high-swatch");
T(1105,821,"High","validation-legend-high-label",{fs:12});
mk("rect",{x:1092,y:823,width:12,height:12,fill:"#f28080"},"validation-legend-low-swatch");
T(1105,834,"Low","validation-legend-low-label",{fs:12});

// I scatter
const xI=v=>579+v*13.1, yI=v=>1108-v*16.3;
mk("rect",{x:573,y:1002,width:541,height:108,fill:"none",stroke:"#888","stroke-width":1.2},"validation-scatter-frame");
L(xI(20),1002,xI(20),1110,"validation-scatter-cutoff","#777",1,"3,3");
iYears.forEach((y,i)=>{
  mk("circle",{cx:xI(i+1),cy:yI(y),r:3.2,fill:iDead[i]?"#f8a21c":"#1414e8"},iDead[i]?"validation-dead-point":"validation-alive-point");
});
[0,10,20,30,40].forEach(t=>{L(xI(t),1110,xI(t),1115,"validation-scatter-x-tick","#666",1);T(xI(t),1130,String(t),"validation-scatter-x-tick-label",{fs:12,a:"middle"});});
[0,1,2,3,4,5,6].forEach(t=>{L(568,yI(t),573,yI(t),"validation-scatter-y-tick","#666",1);T(565,yI(t),String(t),"validation-scatter-y-tick-label",{fs:11,a:"middle",rot:-90});});
T(543,1055,"Survival time (years)","validation-scatter-y-title",{fs:11.5,a:"middle",rot:-90});
T(848,1159,"Patients (increasing risk score)","validation-scatter-x-title",{fs:12,a:"middle"});
T(603,1169,"Time (years)","validation-time-label",{fs:12,a:"middle"});
mk("circle",{cx:585,cy:1017,r:3.2,fill:"#f8a21c"},"validation-legend-dead-marker");T(596,1022,"Dead","validation-legend-dead-label",{fs:12});
mk("circle",{cx:585,cy:1034,r:3.2,fill:"#1414e8"},"validation-legend-alive-marker");T(596,1039,"Alive","validation-legend-alive-label",{fs:12});
</script>
</body></html>
